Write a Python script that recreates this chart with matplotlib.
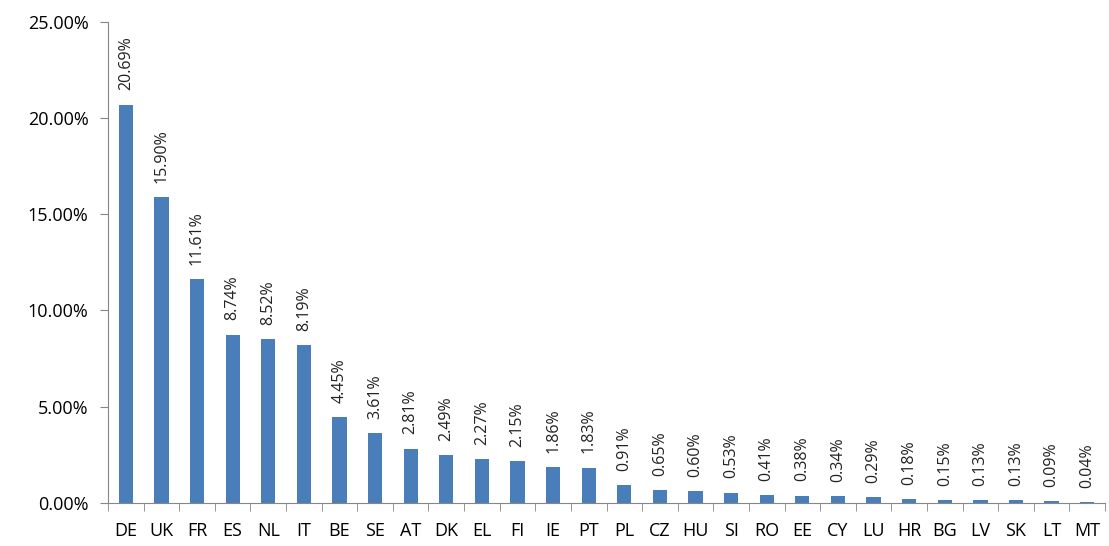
import matplotlib
matplotlib.use('Agg')
import matplotlib.pyplot as plt
from matplotlib.ticker import FuncFormatter, MultipleLocator

plt.rcParams['font.family'] = ['Open Sans', 'DejaVu Sans']

countries = ['DE', 'UK', 'FR', 'ES', 'NL', 'IT', 'BE', 'SE', 'AT', 'DK', 'EL', 'FI', 'IE', 'PT',
             'PL', 'CZ', 'HU', 'SI', 'RO', 'EE', 'CY', 'LU', 'HR', 'BG', 'LV', 'SK', 'LT', 'MT']
shares = [20.69, 15.90, 11.61, 8.74, 8.52, 8.19, 4.45, 3.61, 2.81, 2.49, 2.27, 2.15, 1.86, 1.83,
          0.91, 0.65, 0.60, 0.53, 0.41, 0.38, 0.34, 0.29, 0.18, 0.15, 0.13, 0.13, 0.09, 0.04]

fig = plt.figure(figsize=(11.09, 5.46), dpi=100)
ax = fig.add_axes([0.0974, 0.079, 0.899, 0.881])

x = range(len(countries))
ax.bar(x, shares, width=0.4, color='#4a7ebb')

# etiquetas de valor encima de cada barra
for i, v in enumerate(shares):
    ax.text(i, v + 0.75, '%.2f%%' % v, rotation=90, ha='center', va='bottom', fontsize=11.5,
            color='#222222')

ax.set_xlim(-0.5, len(countries) - 0.5)
ax.set_ylim(0, 25)
ax.yaxis.set_major_locator(MultipleLocator(5))
ax.yaxis.set_major_formatter(FuncFormatter(lambda v, p: '%.2f%%' % v))
ax.set_xticks(list(x))
ax.set_xticklabels(countries)
ax.set_xticks([i + 0.5 for i in range(-1, len(countries))], minor=True)
ax.tick_params(axis='x', which='major', length=0, pad=14, labelsize=13)
ax.tick_params(axis='x', which='minor', length=6, color='#868686', direction='out')
ax.tick_params(axis='y', length=6, color='#868686', labelsize=13, pad=8)

for s in ['top', 'right']:
    ax.spines[s].set_visible(False)
for s in ['left', 'bottom']:
    ax.spines[s].set_color('#868686')

fig.savefig('out.png', dpi=100)
